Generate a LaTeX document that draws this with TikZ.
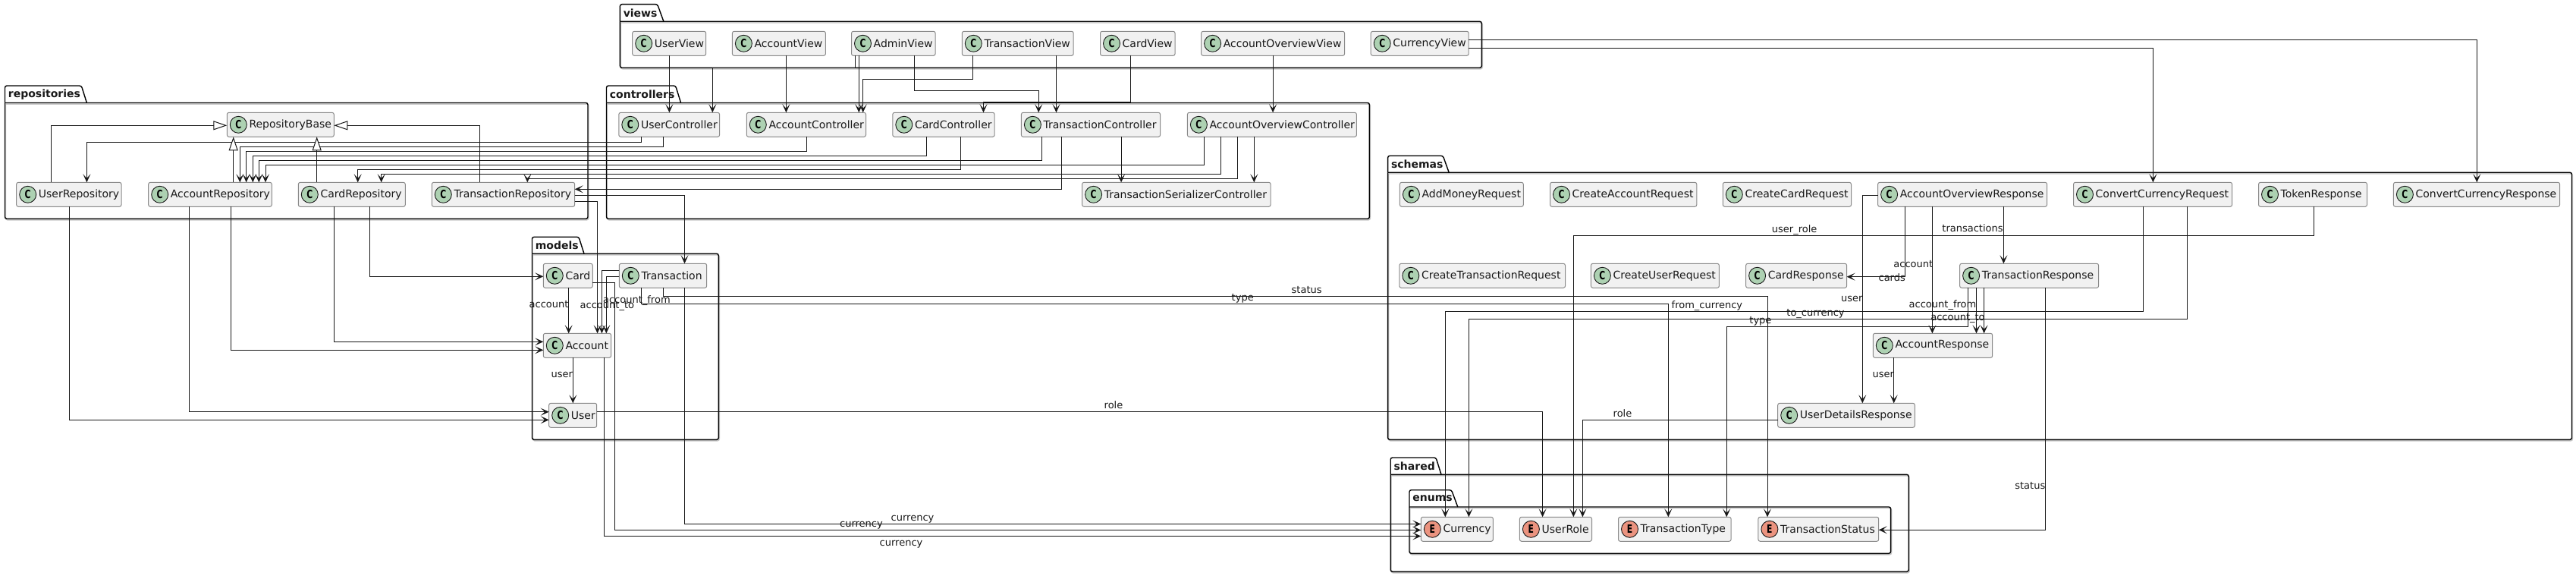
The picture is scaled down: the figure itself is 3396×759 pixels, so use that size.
\documentclass[tikz,border=0pt]{standalone}
\usepackage{graphicx}
\usepackage{fontspec}
\setmainfont{DejaVu Sans}
\usetikzlibrary{arrows.meta}
\definecolor{lnk}{HTML}{181818}
\definecolor{boxf}{HTML}{F1F1F1}
\definecolor{boxd}{HTML}{8A8A8A}
\definecolor{spotc}{HTML}{ADD1B2}
\definecolor{spote}{HTML}{EB937F}
\definecolor{shad}{HTML}{C8C8C8}
\tikzset{
  dep/.style={draw=lnk,line width=.5pt,-{Stealth[length=5.5pt,width=5pt,inset=2.8pt]}},
  ext/.style={draw=lnk,line width=.5pt,-{Triangle[length=9pt,width=6pt,fill=white]}},
  lab/.style={font=\fontsize{6.5}{8}\selectfont,text=black!90,inner sep=0,anchor=base west,yshift=-2.2pt},
  clsbox/.style={draw=boxd,fill=boxf,line width=.5pt,rounded corners=1.25pt,inner sep=0,outer sep=0,
    minimum height=16pt,anchor=north west,align=left,font=\fontsize{7}{8}\selectfont,text=black!90},
  spot/.style={circle,draw=lnk,line width=.45pt,inner sep=0,outer sep=0,minimum size=11pt,
    font=\fontsize{7.5}{8}\bfseries\selectfont,text=black},
  pkgline/.style={line width=.7pt,rounded corners=1.25pt,draw=black},
  pkgshad/.style={line width=.7pt,rounded corners=1.25pt,draw=shad},
  pkglab/.style={font=\fontsize{7}{8}\bfseries\selectfont,inner sep=0,anchor=west,text=black!90},
}
% id, label, left, top, right, letter, colour
\newcommand{\cls}[7]{%
  \pgfmathsetmacro{\boxwidthpt}{(#5-#3)*0.5}%
  \node[clsbox,text width=\boxwidthpt pt] (#1) at (#3,#4) {\hspace*{14.6pt}\mbox{#2}};
  \node[spot,fill=#7] (#1-spot) at ([xshift=7.5pt]#1.west) {\scalebox{0.72}[1]{#6}};
}
% id, label, L, Top, TabR, TabS, BodyTop, R, Bot
\newcommand{\pkg}[9]{%
  \draw[pkgshad,shift={(1,1.6)}] (#3,#7) -- (#8,#7) -- (#8,#9) -- (#3,#9) -- (#3,#7);
  \draw[pkgline] (#3,#7) -- (#3,#4) -- (#5,#4) -- (#6,#7);
  \draw[pkgline] (#3,#7) -- (#8,#7) -- (#8,#9) -- (#3,#9) -- (#3,#7);
  \node[pkglab,xshift=2pt] (#1) at (#3,{(#4+#7)/2}) {#2};
}
\begin{document}
\begin{tikzpicture}[x=0.5pt,y=-0.5pt]
\useasboundingbox (0,0) rectangle (3396,759);
% packages
\pkg{pviews}{views}{817.4}{5.7}{866.7}{874.9}{28.3}{1953.3}{89.3}
\pkg{prepos}{repositories}{6.5}{113}{107.3}{114.4}{135.5}{775}{288.3}
\pkg{pctrl}{controllers}{799.5}{113}{890.6}{897.6}{135.5}{1805.4}{288.3}
\pkg{pmodels}{models}{701.5}{312.3}{763}{770}{334.3}{947.3}{579.3}
\pkg{pschemas}{schemas}{1829.6}{205.3}{1902.3}{1910.2}{227.3}{3390.5}{579.3}
\pkg{pshared}{shared}{1833.2}{603}{1893}{1900}{625.3}{2516.2}{753.3}
\pkg{penums}{enums}{1858}{645.7}{1913.5}{1921.8}{668}{2492.6}{729.3}
% views
\cls{uv}{UserView}{833.7}{41.3}{930.7}{C}{spotc}
\cls{av}{AccountView}{965.4}{41.3}{1088.4}{C}{spotc}
\cls{adv}{AdminView}{1122.5}{41.3}{1233.1}{C}{spotc}
\cls{tv}{TransactionView}{1268.3}{41.3}{1415.2}{C}{spotc}
\cls{cv}{CardView}{1450.5}{41.3}{1549.1}{C}{spotc}
\cls{aov}{AccountOverviewView}{1583.6}{41.3}{1772.6}{C}{spotc}
\cls{curv}{CurrencyView}{1807.2}{41.3}{1936.2}{C}{spotc}
% controllers
\cls{uc}{UserController}{815.8}{148.3}{948.6}{C}{spotc}
\cls{ac}{AccountController}{984.3}{148.3}{1141.5}{C}{spotc}
\cls{cc}{CardController}{1176.8}{148.3}{1311.2}{C}{spotc}
\cls{tc}{TransactionController}{1346.4}{148.3}{1529.6}{C}{spotc}
\cls{aoc}{AccountOverviewController}{1565.4}{148.3}{1788.4}{C}{spotc}
\cls{tsc}{TransactionSerializerController}{1426.6}{240.3}{1675.1}{C}{spotc}
% repositories
\cls{rb}{RepositoryBase}{299.3}{148.3}{440.3}{C}{spotc}
\cls{ur}{UserRepository}{21.7}{240.3}{160}{C}{spotc}
\cls{ar}{AccountRepository}{195.7}{240.3}{358.3}{C}{spotc}
\cls{cr}{CardRepository}{393.3}{240.3}{534.3}{C}{spotc}
\cls{tr}{TransactionRepository}{569.3}{240.3}{757.7}{C}{spotc}
% models
\cls{mcard}{Card}{716.3}{347.3}{781.3}{C}{spotc}
\cls{mtr}{Transaction}{816.3}{347.3}{931.7}{C}{spotc}
\cls{macc}{Account}{716.3}{439.3}{805.7}{C}{spotc}
\cls{muser}{User}{723.7}{531.3}{786.7}{C}{spotc}
% schemas
\cls{amr}{AddMoneyRequest}{1845.4}{240.3}{2008.3}{C}{spotc}
\cls{car}{CreateAccountRequest}{2043.5}{240.3}{2236.8}{C}{spotc}
\cls{ccr}{CreateCardRequest}{2271.3}{240.3}{2440.5}{C}{spotc}
\cls{aor}{AccountOverviewResponse}{2475.6}{240.3}{2698.6}{C}{spotc}
\cls{cvr}{ConvertCurrencyRequest}{2733.5}{240.3}{2942.6}{C}{spotc}
\cls{tkr}{TokenResponse}{2977.5}{240.3}{3120.5}{C}{spotc}
\cls{cvs}{ConvertCurrencyResponse}{3155.4}{240.3}{3374.6}{C}{spotc}
\cls{ctr}{CreateTransactionRequest}{1844.8}{347.3}{2063.5}{C}{spotc}
\cls{cur}{CreateUserRequest}{2097.4}{347.3}{2266.4}{C}{spotc}
\cls{crs}{CardResponse}{2301.6}{347.3}{2434.6}{C}{spotc}
\cls{trs}{TransactionResponse}{2583.6}{347.3}{2766.6}{C}{spotc}
\cls{ars}{AccountResponse}{2469.3}{439.3}{2626.7}{C}{spotc}
\cls{udr}{UserDetailsResponse}{2343.7}{531.3}{2524.3}{C}{spotc}
% enums
\cls{ecur}{Currency}{1873.3}{681.3}{1968.4}{E}{spote}
\cls{erole}{UserRole}{2003.4}{681.3}{2098.5}{E}{spote}
\cls{etype}{TransactionType}{2133.5}{681.3}{2282.1}{E}{spote}
\cls{estat}{TransactionStatus}{2317.9}{681.3}{2476.7}{E}{spote}
% views -> controllers
\draw[dep] (uv.south -| 882.4,0) -- (uc.north -| 882.4,0);
\draw[dep] (adv.south -| 1127.4,0) -- (1127.4,89.3) -- (939.3,89.3) -- (uc.north -| 939.3,0);
\draw[dep] (av.south -| 1036.4,0) -- (ac.north -| 1036.4,0);
\draw[dep] (adv.south -| 1132.3,0) -- (ac.north -| 1132.3,0);
\draw[dep] (tv.south -| 1282.4,0) -- (1282.4,104.3) -- (1137.7,104.3) -- (ac.north -| 1137.7,0);
\draw[dep] (adv.south -| 1205.5,0) -- (1205.5,119.3) -- (1369.2,119.3) -- (tc.north -| 1369.2,0);
\draw[dep] (tv.south -| 1392.5,0) -- (tc.north -| 1392.5,0);
\draw[dep] (cv.south -| 1490.6,0) -- (1490.6,135) -- (1296.5,135) -- (cc.north -| 1296.5,0);
\draw[dep] (aov.south -| 1678.1,0) -- (aoc.north -| 1678.1,0);
\draw[dep] (curv.east |- 0,52.3) -- (3265.3,52.3) -- (cvs.north -| 3265.3,0);
\draw[dep] (curv.east |- 0,63.3) -- (2838.4,63.3) -- (cvr.north -| 2838.4,0);
% controllers -> repositories
\draw[dep] (uc.south -| 845.6,0) -- (845.6,187.7) -- (114.4,187.7) -- (ur.north -| 114.4,0);
\draw[dep] (uc.south -| 874.3,0) -- (874.3,193.7) -- (316.3,193.7) -- (ar.north -| 316.3,0);
\draw[dep] (ac.south -| 1063.5,0) -- (1063.5,199.7) -- (324.7,199.7) -- (ar.north -| 324.7,0);
\draw[dep] (cc.south -| 1221.2,0) -- (1221.2,205.7) -- (333.3,205.7) -- (ar.north -| 333.3,0);
\draw[dep] (tc.south -| 1373.5,0) -- (1373.5,211.7) -- (341.3,211.7) -- (ar.north -| 341.3,0);
\draw[dep] (aoc.south -| 1587.3,0) -- (1587.3,217.7) -- (350,217.7) -- (ar.north -| 350,0);
\draw[dep] (cc.south -| 1266.2,0) -- (1266.2,223.7) -- (471.7,223.7) -- (cr.north -| 471.7,0);
\draw[dep] (aoc.south -| 1609.5,0) -- (1609.5,229.7) -- (502.7,229.7) -- (cr.north -| 502.7,0);
\draw[dep] (aoc.south -| 1631.5,0) -- (1631.5,235.7) -- (695.3,235.7) -- (tr.north -| 695.3,0);
\draw[dep] (tc.south -| 1399.5,0) -- (1399.5,249.3) -- (tr.east |- 0,249.3);
\draw[dep] (aoc.south -| 1653.3,0) -- (tsc.north -| 1653.3,0);
\draw[dep] (tc.south -| 1478.1,0) -- (tsc.north -| 1478.1,0);
% inheritance
\draw[ext] (ur.north -| 67.8,0) -- (67.8,165.3) -- (rb.west |- 0,165.3);
\draw[ext] (tr.north -| 632.3,0) -- (632.3,165.3) -- (rb.east |- 0,165.3);
\draw[ext] (ar.north -| 307.7,0) -- (rb.south -| 307.7,0);
\draw[ext] (cr.north -| 417.7,0) -- (rb.south -| 417.7,0);
% repositories -> models
\draw[dep] (tr.east |- 0,257.3) -- (902.5,257.3) -- (mtr.north -| 902.5,0);
\draw[dep] (tr.east |- 0,265.3) -- (787.6,265.3) -- (macc.north -| 787.6,0);
\draw[dep] (ur.south -| 91.6,0) -- (91.6,553.3) -- (muser.west |- 0,553.3);
\draw[dep] (ar.south -| 249.3,0) -- (249.3,542.7) -- (muser.west |- 0,542.7);
\draw[dep] (ar.south -| 304.4,0) -- (304.4,461.3) -- (macc.west |- 0,461.3);
\draw[dep] (cr.south -| 440.3,0) -- (440.3,450.3) -- (macc.west |- 0,450.3);
\draw[dep] (cr.south -| 487.3,0) -- (487.3,364.3) -- (mcard.west |- 0,364.3);
% inside models
\draw[dep] (mcard.south -| 749.7,0) -- (macc.north -| 749.7,0);
\draw[dep] (mtr.west |- 0,356.7) -- (793.4,356.7) -- (macc.north -| 793.4,0);
\draw[dep] (mtr.west |- 0,364.3) -- (799.3,364.3) -- (macc.north -| 799.3,0);
\draw[dep] (macc.south -| 755.3,0) -- (muser.north -| 755.3,0);
% models -> enums
\draw[dep] (mtr.south -| 902.3,0) -- (902.3,690.5) -- (ecur.west |- 0,690.5);
\draw[dep] (mcard.east |- 0,372.3) -- (810.3,372.3) -- (810.3,698.5) -- (ecur.west |- 0,698.5);
\draw[dep] (macc.south -| 796.7,0) -- (796.7,706.5) -- (ecur.west |- 0,706.5);
\draw[dep] (muser.east |- 0,542.7) -- (2033.6,542.7) -- (erole.north -| 2033.6,0);
\draw[dep] (mtr.south -| 874.3,0) -- (874.3,390.3) -- (2330,390.3) -- (estat.north -| 2330,0);
\draw[dep] (mtr.south -| 845.7,0) -- (845.7,400.3) -- (2199.3,400.3) -- (etype.north -| 2199.3,0);
% schemas
\draw[dep] (aor.south -| 2511.8,0) -- (2511.8,364.7) -- (crs.east |- 0,364.7);
\draw[dep] (aor.south -| 2547.4,0) -- (ars.north -| 2547.4,0);
\draw[dep] (aor.south -| 2641.4,0) -- (trs.north -| 2641.4,0);
\draw[dep] (aor.west |- 0,257.3) -- (2455.3,257.3) -- (udr.north -| 2455.3,0);
\draw[dep] (trs.south -| 2605.5,0) -- (ars.north -| 2605.5,0);
\draw[dep] (trs.south -| 2615.6,0) -- (ars.north -| 2615.6,0);
\draw[dep] (ars.south -| 2496.7,0) -- (udr.north -| 2496.7,0);
\draw[dep] (trs.south -| 2594.6,0) -- (2594.6,430.3) -- (2276.2,430.3) -- (etype.north -| 2276.2,0);
\draw[dep] (trs.south -| 2696.4,0) -- (2696.4,698.3) -- (estat.east |- 0,698.3);
\draw[dep] (cvr.south -| 2825,0) -- (2825,410.3) -- (1905.3,410.3) -- (ecur.north -| 1905.3,0);
\draw[dep] (cvr.south -| 2883.5,0) -- (2883.5,420.3) -- (1936.4,420.3) -- (ecur.north -| 1936.4,0);
\draw[dep] (tkr.south -| 3050,0) -- (3050,310.3) -- (2074.3,310.3) -- (erole.north -| 2074.3,0);
\draw[dep] (udr.west |- 0,553.3) -- (2086.4,553.3) -- (erole.north -| 2086.4,0);
% labels
\node[lab] (l01) at (697.3,400.7) {account};
\node[lab] (l02) at (764.3,401.7) {account\_to};
\node[lab] (l03) at (794.7,394.7) {account\_from};
\node[lab] (l04) at (726.3,492.7) {user};
\node[lab] (l05) at (1174.3,682.3) {currency};
\node[lab] (l06) at (1106.7,690) {currency};
\node[lab] (l07) at (1159.3,715) {currency};
\node[lab] (l08) at (1455.3,533.7) {role};
\node[lab] (l09) at (1702.3,381.7) {status};
\node[lab] (l10) at (1623.3,392) {type};
\node[lab] (l11) at (2203.3,401.7) {from\_currency};
\node[lab] (l12) at (2355,412) {to\_currency};
\node[lab] (l13) at (2306,422) {type};
\node[lab] (l14) at (2126.3,544.7) {role};
\node[lab] (l15) at (2335.5,301.7) {user\_role};
\node[lab] (l16) at (2560,300.7) {transactions};
\node[lab] (l17) at (2496,348) {account};
\node[lab] (l18) at (2476.2,366) {cards};
\node[lab] (l19) at (2426.7,392.7) {user};
\node[lab] (l20) at (2516.3,400.7) {account\_from};
\node[lab] (l21) at (2544.9,417.7) {account\_to};
\node[lab] (l22) at (2468.3,492.7) {user};
\node[lab] (l23) at (2655.9,640) {status};
\end{tikzpicture}
\end{document}
